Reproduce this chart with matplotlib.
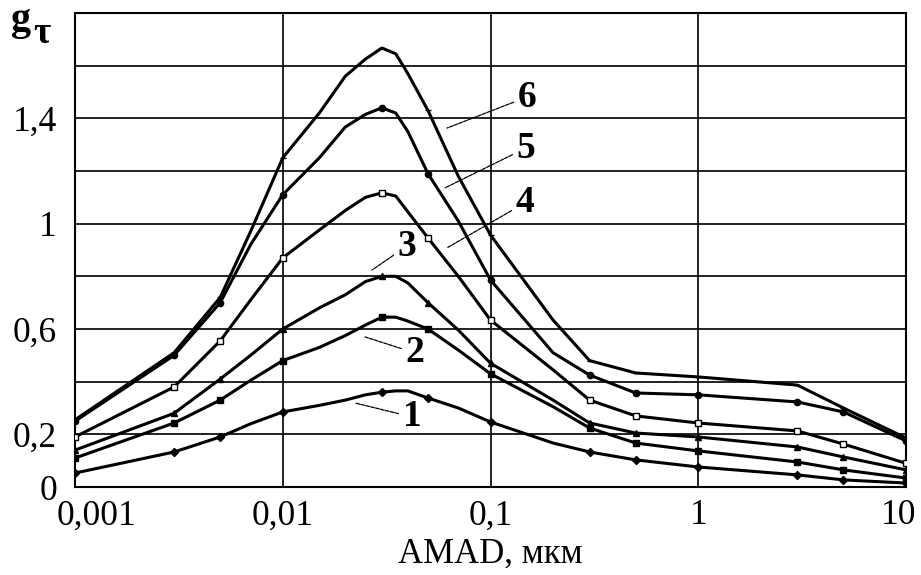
import matplotlib
matplotlib.use("Agg")
import matplotlib.pyplot as plt
import matplotlib.transforms as mtransforms

# ---- data ----
amad = [0.001, 0.003, 0.005, 0.007, 0.01, 0.015, 0.02, 0.025, 0.03, 0.035, 0.04,
        0.05, 0.07, 0.1, 0.2, 0.3, 0.5, 1, 3, 5, 10]
curve1 = [0.053, 0.133, 0.19, 0.24, 0.285, 0.31, 0.33, 0.35, 0.36, 0.365, 0.365,
          0.338, 0.30, 0.247, 0.167, 0.133, 0.103, 0.076, 0.046, 0.027, 0.015]
curve2 = [0.11, 0.243, 0.33, 0.405, 0.48, 0.53, 0.575, 0.615, 0.645, 0.645, 0.63,
          0.60, 0.52, 0.43, 0.305, 0.224, 0.167, 0.137, 0.095, 0.065, 0.034]
curve3 = [0.14, 0.28, 0.41, 0.50, 0.60, 0.68, 0.73, 0.78, 0.80, 0.80, 0.775,
          0.70, 0.596, 0.47, 0.33, 0.243, 0.205, 0.19, 0.152, 0.114, 0.065]
curve4 = [0.19, 0.38, 0.555, 0.71, 0.87, 0.976, 1.05, 1.10, 1.117, 1.105, 1.045,
          0.946, 0.80, 0.634, 0.445, 0.33, 0.27, 0.243, 0.213, 0.163, 0.09]
curve5 = [0.25, 0.50, 0.70, 0.92, 1.11, 1.25, 1.367, 1.415, 1.44, 1.42, 1.35,
          1.19, 1.01, 0.786, 0.51, 0.425, 0.357, 0.35, 0.323, 0.285, 0.175]
curve6 = [0.255, 0.51, 0.72, 0.97, 1.25, 1.42, 1.56, 1.625, 1.667, 1.645, 1.57,
          1.43, 1.18, 0.957, 0.634, 0.48, 0.433, 0.418, 0.387, 0.30, 0.186]
curve_names = ["1", "2", "3", "4", "5", "6"]

xtick_vals = [0.001, 0.01, 0.1, 1, 10]
xtick_labels = ["0,001", "0,01", "0,1", "1", "10"]
ytick_vals = [0, 0.2, 0.4, 0.6, 0.8, 1.0, 1.2, 1.4, 1.6, 1.8]
ytick_labels = ["0", "0,2", "", "0,6", "", "1", "", "1,4", "", ""]

# label anchors (data coords): leader start on curve, text position
label_line_start = [(0.0223, 0.319), (0.0249, 0.570), (0.0269, 0.824),
                    (0.0617, 0.908), (0.0604, 1.136), (0.0617, 1.363)]
label_text_pos = [(0.0419, 0.266), (0.0433, 0.509), (0.0396, 0.915),
                  (0.1466, 1.079), (0.148, 1.287), (0.150, 1.481)]

serif = ["Liberation Serif", "DejaVu Serif"]
plt.rcParams["font.family"] = serif

fig = plt.figure(figsize=(9.21, 5.75), dpi=100)
ax = fig.add_axes([75 / 921, 1 - 487 / 575, (906 - 75) / 921, (487 - 13) / 575])

ax.set_xscale("log")
ax.set_xlim(0.001, 10)
ax.set_ylim(0, 1.8)

markers = ["D", "s", "^", "s", "o", "_"]
mfaces = ["black", "black", "black", "white", "black", "black"]
msizes = [4, 4.5, 4.5, 4.5, 4.5, 5]
mark_idx = [0, 1, 2, 4, 8, 11, 13, 15, 16, 17, 18, 19, 20]
curves = [curve1, curve2, curve3, curve4, curve5, curve6]
for i, c in enumerate(curves):
    ax.plot(amad, c, color="black", lw=2.2, marker=markers[i], markevery=mark_idx,
            markersize=msizes[i], markerfacecolor=mfaces[i], markeredgecolor="black",
            markeredgewidth=1.0, zorder=3, solid_joinstyle="round")

for name, st, tp in zip(curve_names, label_line_start, label_text_pos):
    ax.annotate(name, xy=st, xytext=tp, ha="center", va="center",
                fontsize=27, fontweight="bold", family=serif,
                arrowprops=dict(arrowstyle="-", lw=0.9, color="black",
                                linestyle=(0, (3, 1)), shrinkA=1, shrinkB=0),
                zorder=4)

ax.set_xticks(xtick_vals)
ax.set_xticklabels(xtick_labels)
ax.xaxis.set_minor_locator(matplotlib.ticker.NullLocator())
ax.set_yticks(ytick_vals)
ax.set_yticklabels(ytick_labels)
ax.tick_params(axis="both", length=0, labelsize=25.5)
ax.tick_params(axis="x", pad=9)
ax.tick_params(axis="y", pad=13)
ax.grid(True, which="major", color="#111111", lw=1.3)
ax.set_axisbelow(True)
for s in ax.spines.values():
    s.set_color("black")
    s.set_linewidth(1.5)

# shift first/last x tick labels inward as in the reference
xl = ax.get_xticklabels()
xl[0].set_transform(xl[0].get_transform() + mtransforms.ScaledTranslation(22 / 100, 0, fig.dpi_scale_trans))
xl[-1].set_transform(xl[-1].get_transform() + mtransforms.ScaledTranslation(-7 / 100, 0, fig.dpi_scale_trans))

ax.set_xlabel("AMAD, мкм", fontsize=25, labelpad=4)

fig.text(11 / 921, 1 - 30 / 575, "g", fontsize=29, fontweight="bold", va="baseline", ha="left")
fig.text(33 / 921, 1 - 43 / 575, "τ", fontsize=27, fontweight="bold", va="baseline", ha="left")

fig.savefig("out.png", dpi=100, facecolor="white")
